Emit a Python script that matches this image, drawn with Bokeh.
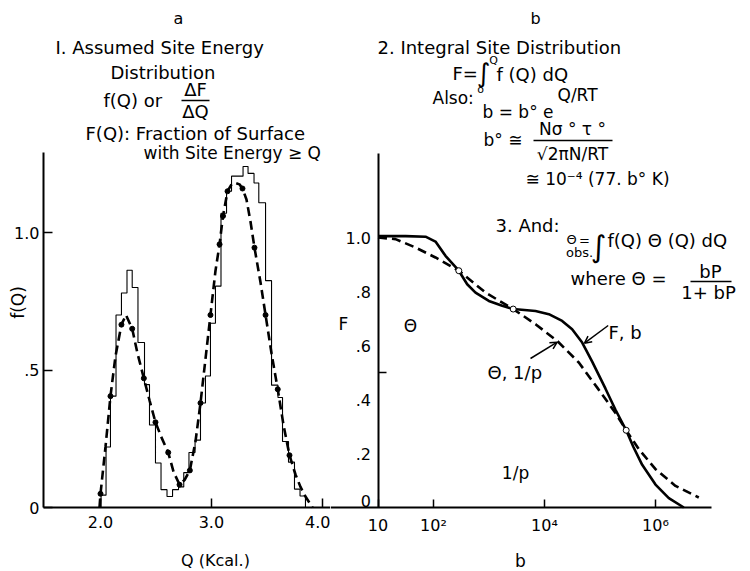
import numpy as np
from bokeh.plotting import figure
from bokeh.layouts import row
from bokeh.models import Range1d, FixedTicker, Label, Arrow, OpenHead, BoxAnnotation
from bokeh.embed import file_html
from bokeh.resources import INLINE

FONT = "DejaVu Sans"

# ---------------- Panel a : site energy distribution ----------------
hist_edges = [2.005, 2.050, 2.090, 2.140, 2.189, 2.239, 2.286, 2.338, 2.397, 2.442,
              2.496, 2.546, 2.600, 2.650, 2.704, 2.751, 2.798, 2.853, 2.902, 2.947,
              2.992, 3.037, 3.087, 3.137, 3.182, 3.286, 3.331, 3.385, 3.428, 3.489,
              3.543, 3.601, 3.642, 3.696, 3.750, 3.800, 3.849]
hist_heights = [0.045, 0.22, 0.405, 0.70, 0.78, 0.863, 0.80, 0.60, 0.447, 0.30,
                0.162, 0.065, 0.04, 0.065, 0.075, 0.127, 0.20, 0.245, 0.38, 0.478,
                0.67, 0.805, 1.07, 1.15, 1.205, 1.24, 1.215, 1.18, 1.108, 0.825,
                0.445, 0.40, 0.24, 0.165, 0.067, 0.042]

curve_q = [1.991, 2.000, 2.045, 2.090, 2.135, 2.189, 2.230, 2.286, 2.334, 2.391,
           2.442, 2.496, 2.550, 2.611, 2.659, 2.713, 2.758, 2.806, 2.857, 2.902,
           2.947, 2.992, 3.037, 3.074, 3.105, 3.146, 3.182, 3.218, 3.254, 3.281,
           3.317, 3.353, 3.389, 3.443, 3.489, 3.543, 3.599, 3.651, 3.705, 3.759,
           3.804, 3.849, 3.913]
curve_f = [0.0, 0.05, 0.22, 0.405, 0.55, 0.665, 0.70, 0.65, 0.56, 0.47,
           0.39, 0.31, 0.255, 0.20, 0.13, 0.083, 0.10, 0.135, 0.24, 0.38,
           0.54, 0.70, 0.86, 0.957, 1.06, 1.15, 1.175, 1.18, 1.175, 1.16,
           1.12, 1.04, 0.945, 0.82, 0.70, 0.56, 0.43, 0.30, 0.19, 0.12,
           0.075, 0.04, 0.0]

dot_q = [2.000, 2.090, 2.189, 2.286, 2.391, 2.496, 2.611, 2.713, 2.806, 2.902,
         2.992, 3.074, 3.105, 3.146, 3.281, 3.389, 3.489, 3.599, 3.705]
dot_f = [0.05, 0.405, 0.665, 0.65, 0.47, 0.31, 0.20, 0.083, 0.135, 0.38,
         0.70, 0.957, 1.06, 1.15, 1.16, 0.945, 0.70, 0.43, 0.19]

a_xticks = [2.0, 3.0, 4.0]
a_xlabels = ["2.0", "3.0", "4.0"]
a_yticks = [0.0, 0.5, 1.0]
a_ylabels = ["0", ".5", "1.0"]

# ---------------- Panel b : integral distribution ----------------
fb_b = [10, 31.6, 71.8, 108.6, 164.4, 285.8, 404.6, 571.5, 993, 1730,
        2729, 6887, 11970, 20800, 31480, 47750, 72280, 125600, 190100, 296500,
        398100, 575400, 1.0e6, 1.738e6, 3.236e6]
fb_F = [1.005, 1.005, 1.003, 0.985, 0.932, 0.877, 0.827, 0.796, 0.765, 0.747,
        0.735, 0.728, 0.716, 0.691, 0.660, 0.611, 0.540, 0.440, 0.362, 0.286,
        0.225, 0.158, 0.085, 0.035, 0.0]

th_b = [10, 20.65, 47.4, 108.6, 285.8, 865, 2729, 6887, 16940, 41500,
        89130, 190100, 296500, 501200, 1.0e6, 2.291e6, 6.026e6]
th_F = [1.0, 0.994, 0.963, 0.926, 0.877, 0.796, 0.735, 0.679, 0.617, 0.537,
        0.444, 0.350, 0.286, 0.216, 0.142, 0.080, 0.037]

cross_b = [285.8, 2729, 296500]
cross_F = [0.877, 0.735, 0.286]

b_xticks = [10, 100, 1e4, 1e6]
b_xlabels = ["10", "10²", "10⁴", "10⁶"]
b_yticks = [0.0, 0.2, 0.4, 0.6, 0.8, 1.0]
b_ylabels = ["0", ".2", ".4", ".6", ".8", "1.0"]
b_minor = [0.5]

# ---------------- page geometry helpers ----------------
W_A, W_B, H = 330, 420, 571
BASE = 507


def qa(px):
    return 2.0 + (px - 100) / 110.85


def fa(py):
    return (BASE - py) / 275.0


def bb(px):
    return 10 ** (2.0 + (px - 433) / 55.5)


def fbv(py):
    return (BASE - py) / 270.0


def style_axis(ax):
    ax.axis_line_width = 2
    ax.axis_line_color = "black"
    ax.major_tick_line_width = 1.5
    ax.major_tick_line_color = "black"
    ax.major_tick_out = 0
    ax.minor_tick_line_color = None
    ax.major_label_text_font = FONT
    ax.major_label_text_font_size = "16px"
    ax.major_label_text_color = "black"


def lab(p, x, y, text, size="18px", align="left", angle=0.0):
    p.add_layout(Label(x=x, y=y, text=text, text_font=FONT, text_font_size=size,
                       text_color="black", text_align=align, text_baseline="middle",
                       angle=angle))


def bar(p, x0, x1, y, h):
    p.add_layout(BoxAnnotation(left=x0, right=x1, bottom=y - h / 2, top=y + h / 2,
                               fill_color="black", fill_alpha=1.0, line_color=None))


# ---------------- left figure ----------------
pa = figure(width=W_A, height=H, x_range=Range1d(qa(0), qa(W_A)), y_range=Range1d(fa(H), fa(0)),
            output_backend="svg", toolbar_location=None,
            min_border_left=0, min_border_right=0, min_border_top=0, min_border_bottom=0)
pa.grid.visible = False
pa.outline_line_color = None

hx, hy = [hist_edges[0]], [0.0]
for i, h in enumerate(hist_heights):
    hx += [hist_edges[i], hist_edges[i + 1]]
    hy += [h, h]
hx.append(hist_edges[-1])
hy.append(0.0)

pa.line(hx, hy, line_color="black", line_width=1.1)
pa.line(curve_q, curve_f, line_color="black", line_width=2.6, line_dash="9 5")
pa.scatter(dot_q, dot_f, size=5, color="black")

for ax in pa.xaxis:
    style_axis(ax)
    ax.ticker = FixedTicker(ticks=a_xticks)
    ax.major_label_overrides = dict(zip(a_xticks, a_xlabels))
    ax.major_tick_in = 9
    ax.major_label_standoff = 8
    ax.fixed_location = 0.0
    ax.bounds = (qa(43), qa(W_A))
for ax in pa.yaxis:
    style_axis(ax)
    ax.ticker = FixedTicker(ticks=a_yticks)
    ax.major_label_overrides = dict(zip(a_yticks, a_ylabels))
    ax.major_tick_in = 9
    ax.major_label_standoff = 4
    ax.fixed_location = qa(43)
    ax.bounds = (0, fa(152))

lab(pa, qa(178), fa(18), "a", align="center", size="16px")
lab(pa, qa(55), fa(47), "I. Assumed Site Energy")
lab(pa, qa(110), fa(72), "Distribution")
lab(pa, qa(103), fa(100), "f(Q) or")
lab(pa, qa(195), fa(89), "ΔF", align="center")
bar(pa, qa(181), qa(209), fa(100), 1.6 / 275)
lab(pa, qa(195), fa(111), "ΔQ", align="center")
lab(pa, qa(85), fa(133), "F(Q): Fraction of Surface")
lab(pa, qa(143), fa(152), "with Site Energy ≥ Q", size="17px")
lab(pa, qa(215), fa(560), "Q (Kcal.)", align="center", size="16px")
lab(pa, qa(17), fa(302), "f(Q)", align="center", size="17px", angle=np.pi / 2)

# ---------------- right figure ----------------
pb = figure(width=W_B, height=H, x_axis_type="log",
            x_range=Range1d(bb(W_A), bb(W_A + W_B)), y_range=Range1d(fbv(H), fbv(0)),
            output_backend="svg", toolbar_location=None,
            min_border_left=0, min_border_right=0, min_border_top=0, min_border_bottom=0)
pb.grid.visible = False
pb.outline_line_color = None

pb.line(fb_b, fb_F, line_color="black", line_width=2.6)
pb.line(th_b, th_F, line_color="black", line_width=2.6, line_dash="9 5")
pb.scatter(cross_b, cross_F, size=6, fill_color="white", line_color="black", line_width=1)

# the "0" label sits just above the baseline in the reference
zero_lift = 7 / 270.0
b_ylabel_pos = [t if t > 0 else t + zero_lift for t in b_yticks]

for ax in pb.xaxis:
    style_axis(ax)
    ax.ticker = FixedTicker(ticks=b_xticks)
    ax.major_label_overrides = dict(zip(b_xticks, b_xlabels))
    ax.major_tick_in = 8
    ax.major_label_standoff = 8
    ax.fixed_location = 0.0
    ax.bounds = (bb(W_A), 1e7)
for ax in pb.yaxis:
    style_axis(ax)
    ax.ticker = FixedTicker(ticks=b_ylabel_pos, minor_ticks=b_minor)
    ax.major_label_overrides = dict(zip(b_ylabel_pos, b_ylabels))
    ax.major_tick_in = 0
    ax.minor_tick_line_color = "black"
    ax.minor_tick_line_width = 1.5
    ax.minor_tick_in = 8
    ax.minor_tick_out = 0
    ax.major_label_standoff = 7
    ax.bounds = (0, fbv(153))
    ax.fixed_location = 10

lab(pb, bb(535), fbv(18), "b", align="center", size="16px")
lab(pb, bb(377), fbv(47), "2. Integral Site Distribution")
lab(pb, bb(452), fbv(73), "F=")
lab(pb, bb(483), fbv(72), "∫", align="center", size="26px")
lab(pb, bb(493), fbv(60), "Q", align="center", size="11px")
lab(pb, bb(480), fbv(89), "o", align="center", size="11px")
lab(pb, bb(496), fbv(74), "f (Q) dQ")
lab(pb, bb(432), fbv(97), "Also:", size="17px")
lab(pb, bb(482), fbv(111), "b = b° e", size="17px")
lab(pb, bb(557), fbv(94), "Q/RT", size="17px")
lab(pb, bb(483), fbv(139), "b° ≅", size="17px")
lab(pb, bb(572), fbv(128), "Nσ ° τ °", align="center", size="17px")
bar(pb, bb(533), bb(612), fbv(140), 1.6 / 270)
lab(pb, bb(572), fbv(153), "√2πN/RT", align="center", size="17px")
lab(pb, bb(525), fbv(178), "≅ 10⁻⁴ (77. b° K)", size="17px")
lab(pb, bb(495), fbv(225), "3. And:")
lab(pb, bb(571), fbv(239), "Θ", align="center", size="13px")
lab(pb, bb(584), fbv(240), "=", align="center", size="13px")
lab(pb, bb(579), fbv(252), "obs.", align="center", size="13px")
lab(pb, bb(598), fbv(246), "∫", align="center", size="30px")
lab(pb, bb(607), fbv(240), "f(Q) Θ (Q) dQ")
lab(pb, bb(570), fbv(278), "where  Θ  =")
lab(pb, bb(710), fbv(271), "bP", align="center")
bar(pb, bb(690), bb(731), fbv(281), 1.6 / 270)
lab(pb, bb(708), fbv(292), "1+ bP", align="center")
lab(pb, bb(608), fbv(332), "F, b")
lab(pb, bb(487), fbv(372), "Θ, 1/p")
lab(pb, bb(410), fbv(325), "Θ", align="center", size="17px")
lab(pb, bb(343), fbv(323), "F", align="center", size="17px")
lab(pb, bb(515), fbv(472), "1/p", align="center", size="17px")
lab(pb, bb(520), fbv(560), "b", align="center", size="17px")

pb.add_layout(Arrow(x_start=bb(607.7), y_start=fbv(325), x_end=bb(584), y_end=fbv(342.7),
                    line_width=1.5, line_color="black",
                    end=OpenHead(size=7, line_width=1.5, line_color="black")))
pb.add_layout(Arrow(x_start=bb(530), y_start=fbv(358), x_end=bb(556.7), y_end=fbv(341.7),
                    line_width=1.5, line_color="black",
                    end=OpenHead(size=7, line_width=1.5, line_color="black")))

layout = row(pa, pb)
open("out.html", "w").write(file_html(layout, INLINE))
